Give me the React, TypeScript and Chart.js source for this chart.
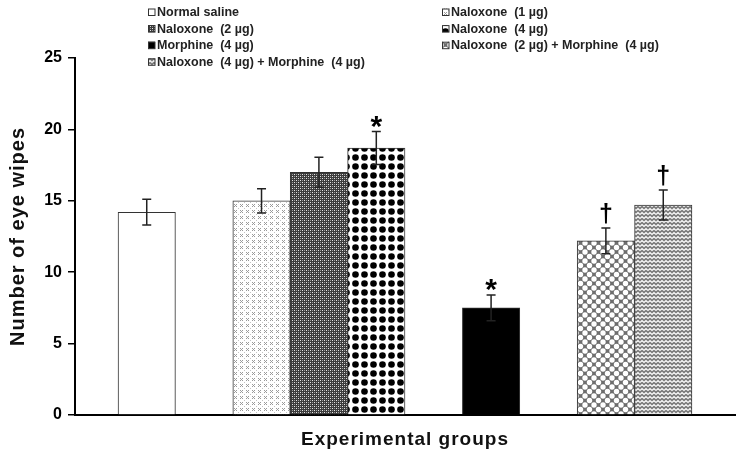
import React, { useEffect, useRef } from 'react';
import { Chart, registerables } from 'chart.js';

Chart.register(...registerables);

const FONT = '"Liberation Sans", Arial, Helvetica, sans-serif';

// ---- data ----
const groupNames = [
  'Normal saline',
  'Naloxone  (1 µg)',
  'Naloxone  (2 µg)',
  'Naloxone  (4 µg)',
  'Morphine  (4 µg)',
  'Naloxone  (2 µg) + Morphine  (4 µg)',
  'Naloxone  (4 µg) + Morphine  (4 µg)',
];
const meanWipes = [14.2, 15.0, 17.0, 18.7, 7.5, 12.2, 14.7];
const semWipes = [0.9, 0.85, 1.05, 1.15, 0.9, 0.9, 1.05];
const sigMarks = ['', '', '', '*', '*', '†', '†'];
const clusterSizes = [1, 3, 1, 2];
const yTickValues = [0, 5, 10, 15, 20, 25];
const xTitle = 'Experimental groups';
const yTitle = 'Number of eye wipes';

// slot index of each bar: clusters laid side by side with one empty slot between
function slotPositions(sizes: number[]): number[] {
  const out: number[] = [];
  let start = 1;
  sizes.forEach((s) => {
    for (let k = 0; k < s; k++) out.push(start + k);
    start += s + 1;
  });
  return out;
}

const fillKinds = ['blank', 'speckle', 'fineCheck', 'bigDots', 'solid', 'lattice', 'wave'];

function makeFill(kind: string): CanvasPattern | string {
  if (kind === 'blank') return '#ffffff';
  if (kind === 'solid') return '#000000';
  const c = document.createElement('canvas');
  const g = c.getContext('2d')!;
  if (kind === 'speckle') {
    c.width = 6; c.height = 6;
    g.fillStyle = '#ffffff'; g.fillRect(0, 0, 6, 6);
    g.fillStyle = '#9a9a9a';
    [[0, 0], [2, 0], [1, 1], [0, 2], [2, 2]].forEach(([a, b]) => g.fillRect(a, b, 1, 1));
    g.fillStyle = '#c4c4c4';
    g.fillRect(4, 4, 1, 1);
  } else if (kind === 'fineCheck') {
    c.width = 4; c.height = 4;
    g.fillStyle = '#3c3c3c'; g.fillRect(0, 0, 4, 4);
    g.fillStyle = '#e6e6e6';
    g.fillRect(0, 0, 1, 1); g.fillRect(2, 2, 1, 1);
    g.fillStyle = '#9a9a9a';
    g.fillRect(2, 0, 1, 1); g.fillRect(0, 2, 1, 1);
  } else if (kind === 'bigDots') {
    c.width = 9; c.height = 9;
    g.fillStyle = '#ffffff'; g.fillRect(0, 0, 9, 9);
    g.fillStyle = '#000000';
    g.beginPath(); g.arc(4.5, 4.5, 3.3, 0, Math.PI * 2); g.fill();
  } else if (kind === 'lattice') {
    c.width = 9; c.height = 9;
    g.fillStyle = '#6e6e6e'; g.fillRect(0, 0, 9, 9);
    g.fillStyle = '#ffffff';
    [[4.5, 4.5], [0, 0], [9, 0], [0, 9], [9, 9]].forEach(([a, b]) => {
      g.beginPath(); g.arc(a, b, 2.7, 0, Math.PI * 2); g.fill();
    });
  } else if (kind === 'wave') {
    c.width = 8; c.height = 8;
    g.fillStyle = '#7e7e7e'; g.fillRect(0, 0, 8, 8);
    g.strokeStyle = '#ffffff'; g.lineWidth = 1.1;
    g.beginPath();
    g.moveTo(0, 2.5); g.lineTo(2, 0.5); g.lineTo(4, 2.5); g.lineTo(6, 0.5); g.lineTo(8, 2.5);
    g.moveTo(0, 6.5); g.lineTo(2, 4.5); g.lineTo(4, 6.5); g.lineTo(6, 4.5); g.lineTo(8, 6.5);
    g.stroke();
  }
  return g.createPattern(c, 'repeat')!;
}

export default function App() {
  const ref = useRef<HTMLCanvasElement | null>(null);

  useEffect(() => {
    const canvas = ref.current!;
    const fills = fillKinds.map(makeFill);
    const positions = slotPositions(clusterSizes);
    const lastSlot = positions[positions.length - 1];

    const overlay = {
      id: 'overlay',
      afterDatasetsDraw(chart: any) {
        const ctx = chart.ctx as CanvasRenderingContext2D;
        const meta = chart.getDatasetMeta(0);
        const ys = chart.scales.y;
        ctx.save();
        meta.data.forEach((bar: any, i: number) => {
          const x = bar.x;
          const yTop = ys.getPixelForValue(meanWipes[i] + semWipes[i]);
          const yBot = ys.getPixelForValue(meanWipes[i] - semWipes[i]);
          ctx.strokeStyle = '#222';
          ctx.lineWidth = 1.5;
          ctx.beginPath();
          ctx.moveTo(x, yTop); ctx.lineTo(x, yBot);
          ctx.moveTo(x - 4.5, yTop); ctx.lineTo(x + 4.5, yTop);
          ctx.moveTo(x - 4.5, yBot); ctx.lineTo(x + 4.5, yBot);
          ctx.stroke();
          const mark = sigMarks[i];
          if (mark) {
            ctx.fillStyle = '#000';
            ctx.textAlign = 'center';
            ctx.textBaseline = 'alphabetic';
            ctx.font = mark === '*' ? `bold 30px ${FONT}` : `bold 25px ${FONT}`;
            const m = ctx.measureText(mark);
            const gap = 4;
            ctx.fillText(mark, x, yTop - gap - m.actualBoundingBoxDescent);
          }
        });
        ctx.restore();
      },
      afterDraw(chart: any) {
        const ctx = chart.ctx as CanvasRenderingContext2D;
        const ca = chart.chartArea;
        ctx.save();
        // axis titles
        ctx.fillStyle = '#111';
        ctx.textAlign = 'center';
        ctx.textBaseline = 'middle';
        ctx.font = `bold 19px ${FONT}`;
        (ctx as any).letterSpacing = '1px';
        ctx.fillText(xTitle, (ca.left + ca.right) / 2, 440);
        ctx.save();
        ctx.translate(18, (ca.top + ca.bottom) / 2);
        ctx.rotate(-Math.PI / 2);
        ctx.font = `bold 20px ${FONT}`;
        (ctx as any).letterSpacing = '1px';
        ctx.fillText(yTitle, 0, 0);
        ctx.restore();
        (ctx as any).letterSpacing = '0px';
        // legend, two columns, row-major
        const colX = [148, 442];
        ctx.font = `bold 12.5px ${FONT}`;
        ctx.textAlign = 'left';
        groupNames.forEach((name, i) => {
          const cx = colX[i % 2];
          const cy = 12 + Math.floor(i / 2) * 16.6;
          ctx.fillStyle = fills[i] as any;
          ctx.fillRect(cx, cy - 3.5, 7, 7);
          ctx.strokeStyle = '#333';
          ctx.lineWidth = 1;
          ctx.strokeRect(cx + 0.5, cy - 3, 6.5, 6.5);
          ctx.fillStyle = '#222';
          ctx.fillText(name, cx + 9, cy + 0.5);
        });
        ctx.restore();
      },
    };

    const chart = new Chart(canvas, {
      type: 'bar',
      data: {
        datasets: [
          {
            data: positions.map((x, i) => ({ x, y: meanWipes[i] })),
            backgroundColor: fills as any,
            borderColor: '#333',
            borderWidth: 1,
            barPercentage: 1,
            categoryPercentage: 1,
          },
        ],
      },
      options: {
        responsive: false,
        animation: false,
        layout: { padding: { top: 58, right: 2, bottom: 0, left: 0 } },
        plugins: { legend: { display: false }, tooltip: { enabled: false } },
        scales: {
          x: {
            type: 'linear',
            min: positions[0] - 1.25,
            max: lastSlot + 1.25,
            ticks: { display: false },
            grid: { display: false },
            border: { display: true, color: '#000', width: 2 },
            afterBuildTicks: (s: any) => { s.ticks = []; },
            afterFit: (s: any) => { s.height = 42; },
          },
          y: {
            min: yTickValues[0],
            max: yTickValues[yTickValues.length - 1],
            afterBuildTicks: (s: any) => { s.ticks = yTickValues.map((v) => ({ value: v })); },
            ticks: {
              color: '#000',
              padding: 6,
              font: { family: FONT, size: 16, weight: 'bold' },
            },
            grid: { display: true, drawOnChartArea: false, drawTicks: true, tickLength: 7, color: '#000', lineWidth: 1.5 },
            border: { display: true, color: '#000', width: 2 },
            afterFit: (s: any) => { s.width = 75; },
          },
        },
      },
      plugins: [overlay],
    } as any);

    return () => chart.destroy();
  }, []);

  return (
    <div style={{ position: 'absolute', left: 0, top: 0, width: 737, height: 457, background: '#fff' }}>
      <canvas ref={ref} width={737} height={457} style={{ display: 'block' }} />
    </div>
  );
}
